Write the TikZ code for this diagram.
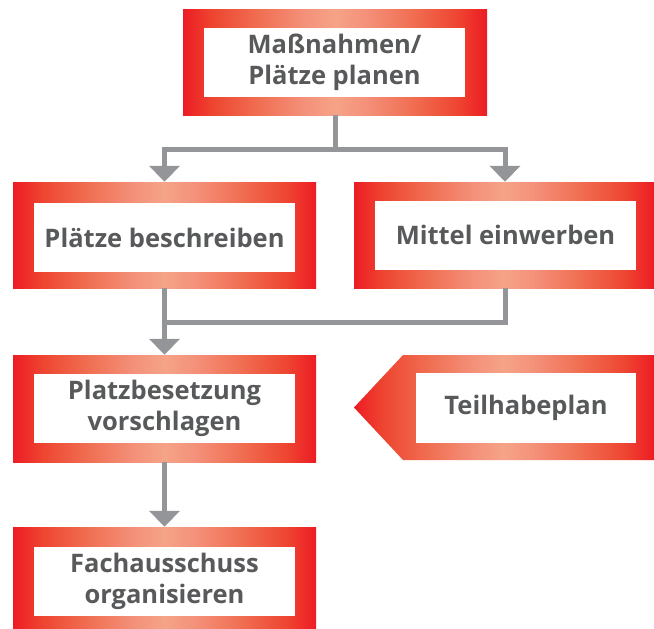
\documentclass[tikz,border=0pt]{standalone}
\usepackage{fontspec}
\setmainfont{Open Sans}
\usetikzlibrary{arrows.meta,calc}
\definecolor{fred}{HTML}{ED1C24}
\definecolor{fa}{HTML}{EE4631}
\definecolor{fb}{HTML}{F06F53}
\definecolor{fc}{HTML}{F4917A}
\definecolor{flight}{HTML}{F5A387}
\definecolor{tgray}{HTML}{58595B}
\definecolor{cgray}{HTML}{939598}
\pgfdeclarehorizontalshading{frameshade}{100bp}{color(0bp)=(fred); color(25bp)=(fred); color(30bp)=(fa); color(37.5bp)=(fb); color(45bp)=(fc); color(50bp)=(flight); color(55bp)=(fc); color(62.5bp)=(fb); color(70bp)=(fa); color(75bp)=(fred); color(100bp)=(fred)}
\tikzset{
  frame/.style={rectangle, shading=frameshade, draw=none, inner sep=0pt, minimum width=303pt, minimum height=106pt},
  inner/.style={rectangle, fill=white, inner sep=0pt, minimum width=261pt, minimum height=69pt, align=center, text=tgray, font=\bfseries\fontsize{25.5}{31}\selectfont},
  conn/.style={draw=cgray, line width=5pt, line join=miter},
  arr/.style={conn, -{Triangle[width=30pt,length=16pt]}}
}
\begin{document}
\begin{tikzpicture}[x=1pt,y=-1pt]
\useasboundingbox (0,0) rectangle (654,629);
\begin{scope}
\clip (0,0) rectangle (654,629);
% boxes
\node[frame, minimum width=304pt] (A) at (335,62) {};
\node[inner] (Ai) at (334.5,62.5) {Maßnahmen/\\Plätze planen};
\node[frame] (B) at (164.5,235) {};
\node[inner] (Bi) at (164.5,237.5) {Plätze beschreiben};
\node[frame, minimum width=300pt] (C) at (504,235) {};
\node[inner] (Ci) at (505.5,235) {Mittel einwerben};
\node[frame, minimum height=107pt] (D) at (164.5,408.5) {};
\node[inner] (Di) at (164.5,408.5) {Platzbesetzung\\vorschlagen};
\node[frame, minimum height=108pt] (F) at (164.5,581) {};
\node[inner] (Fi) at (164.5,581.5) {Fachausschuss\\organisieren};
% Teilhabeplan arrow shape
\shade[shading=frameshade] (354,407.5) -- (403,355) -- (654,355) -- (654,460) -- (403,460) -- cycle;
\node[inner, minimum width=220pt, minimum height=70pt] (Ei) at (526,408) {Teilhabeplan};
% connectors
\coordinate (j1) at (335,149);
\coordinate (j2) at (335,322);
\draw[conn] (A.south) -- (j1);
\draw[arr] (j1) -| (B.north);
\draw[arr] (j1) -| ([xshift=1pt]C.north);
\draw[conn] ([xshift=1pt]C.south) |- (B.south |- j2);
\draw[arr] (B.south) -- (D.north);
\draw[arr] (D.south) -- (F.north);
\end{scope}
\end{tikzpicture}
\end{document}
